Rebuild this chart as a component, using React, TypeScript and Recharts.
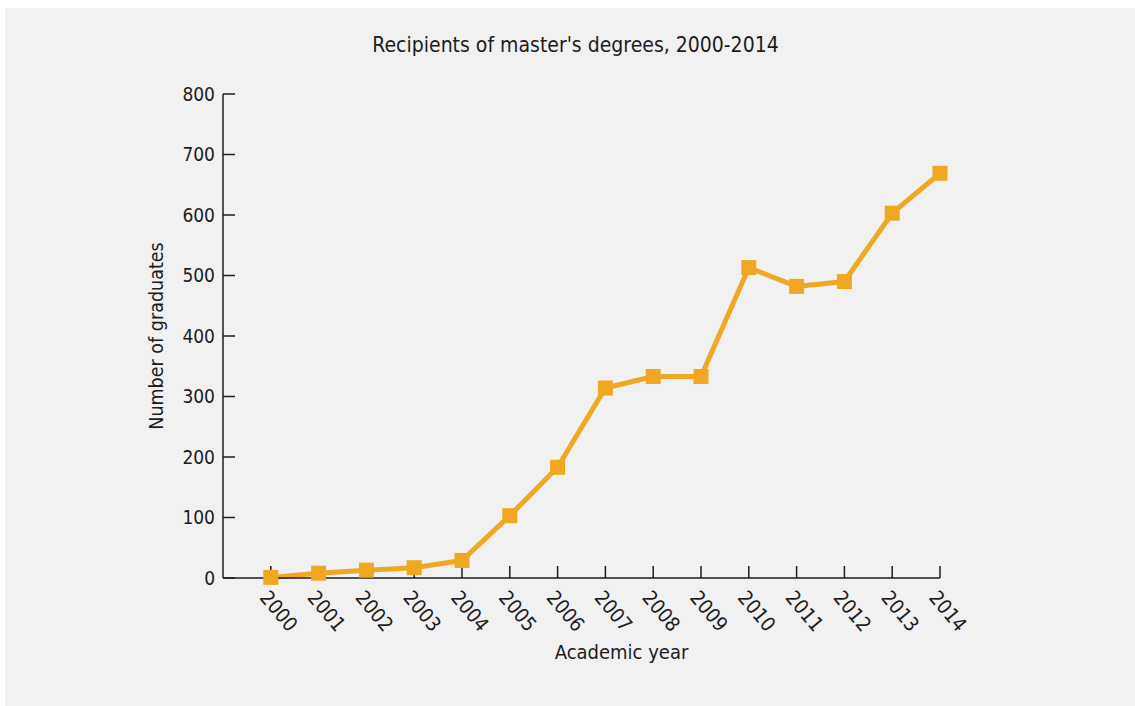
import { LineChart, Line, XAxis, YAxis, Label } from 'recharts'

const FONT = '"Liberation Sans Narrow", "DejaVu Sans Condensed", "Roboto", sans-serif'
const INK = '#1c1c1c'
const ORANGE = '#f0a722'

const years = [2000, 2001, 2002, 2003, 2004, 2005, 2006, 2007, 2008, 2009, 2010, 2011, 2012, 2013, 2014]
const graduates = [1, 8, 13, 17, 29, 103, 183, 314, 333, 333, 513, 482, 490, 603, 669]
const yTicks = [0, 100, 200, 300, 400, 500, 600, 700, 800]

const data = years.map((year, i) => ({ year, graduates: graduates[i] }))

const YearTick = (props: any) => {
	const { x, y, payload } = props
	const ax = x - 12
	const ay = y
	return (
		<text
			x={ax}
			y={ay}
			transform={`rotate(50, ${ax}, ${ay})`}
			textAnchor="start"
			fontSize={20}
			fontFamily={FONT}
			fill={INK}
		>
			{payload.value}
		</text>
	)
}

const SquareDot = (props: any) => {
	const { cx, cy, index } = props
	return (
		<rect
			key={`dot-${index}`}
			x={cx - 7.5}
			y={cy - 7.5}
			width={15}
			height={15}
			fill={ORANGE}
		/>
	)
}

export default function App() {
	return (
		<div
			style={{
				position: 'absolute',
				left: 5,
				top: 8,
				width: 1130,
				height: 698,
				background: '#f1f1f1',
				fontFamily: FONT,
			}}
		>
			<div
				style={{
					position: 'absolute',
					left: 0,
					width: 1141,
					top: 25,
					textAlign: 'center',
					fontSize: 21,
					color: INK,
				}}
			>
				Recipients of master's degrees, 2000-2014
			</div>
			<LineChart
				width={1130}
				height={698}
				data={data}
				margin={{ top: 86, right: 195, left: 138, bottom: 38 }}
			>
				<XAxis
					dataKey="year"
					type="number"
					domain={[1999, 2014]}
					ticks={years}
					interval={0}
					height={90}
					stroke={INK}
					strokeWidth={1.5}
					tickSize={-12}
					tickMargin={32}
					tick={<YearTick />}
				>
					<Label
						content={(p: any) => {
							const vb = p.viewBox
							return (
								<text
									x={vb.x + vb.width / 2 + 40}
									y={vb.y + 81}
									textAnchor="middle"
									fontSize={20}
									fontFamily={FONT}
									fill={INK}
								>
									Academic year
								</text>
							)
						}}
					/>
				</XAxis>
				<YAxis
					type="number"
					domain={[0, 800]}
					ticks={yTicks}
					width={80}
					stroke={INK}
					strokeWidth={1.5}
					tickSize={-12}
					tickMargin={20}
					tick={{ fontSize: 19, fontFamily: FONT, fill: INK }}
				>
					<Label
						content={(p: any) => {
							const vb = p.viewBox
							const cx = vb.x + 20
							const cy = vb.y + vb.height / 2
							return (
								<text
									x={cx}
									y={cy}
									transform={`rotate(-90, ${cx}, ${cy})`}
									textAnchor="middle"
									fontSize={19.5}
									fontFamily={FONT}
									fill={INK}
								>
									Number of graduates
								</text>
							)
						}}
					/>
				</YAxis>
				<Line
					type="linear"
					dataKey="graduates"
					stroke={ORANGE}
					strokeWidth={5}
					dot={<SquareDot />}
					activeDot={false}
					isAnimationActive={false}
				/>
			</LineChart>
		</div>
	)
}
